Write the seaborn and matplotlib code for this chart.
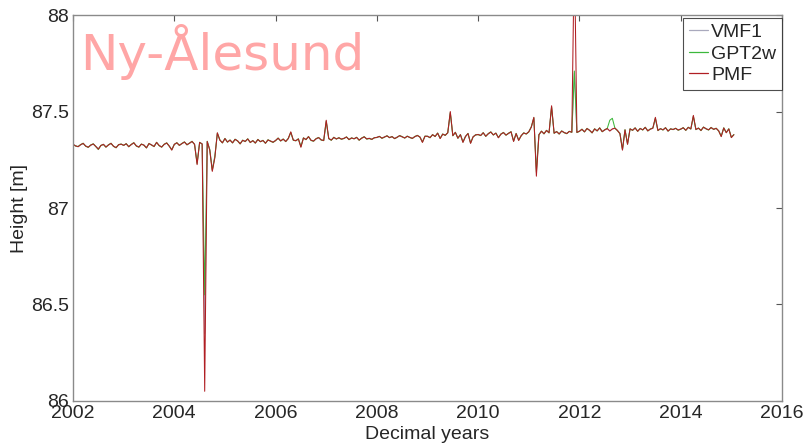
import numpy as np
import pandas as pd
import matplotlib
matplotlib.use("Agg")
import matplotlib.pyplot as plt
import seaborn as sns

# sampling epochs (decimal years), every 0.05 yr
years = np.round(np.arange(2002.0, 2015.051, 0.05), 2)

# station height [m] per troposphere mapping model
pmf = [
    87.330, 87.322, 87.318, 87.328, 87.335, 87.321, 87.315, 87.326, 87.332, 87.319, 87.305, 87.324, 87.330, 87.316, 87.327, 87.335, 87.320, 87.313, 87.328, 87.331,
    87.325, 87.333, 87.318, 87.329, 87.338, 87.322, 87.316, 87.331, 87.326, 87.312, 87.334, 87.327, 87.319, 87.340, 87.324, 87.316, 87.330, 87.337, 87.321, 87.300,
    87.330, 87.338, 87.325, 87.334, 87.342, 87.328, 87.336, 87.345, 87.330, 87.225, 87.340, 87.332, 86.050, 87.345, 87.300, 87.190, 87.260, 87.390, 87.352, 87.338,
    87.360, 87.342, 87.352, 87.338, 87.356, 87.348, 87.333, 87.351, 87.345, 87.358, 87.340, 87.349, 87.337, 87.355, 87.344, 87.350, 87.336, 87.353, 87.347, 87.341,
    87.350, 87.362, 87.348, 87.357, 87.345, 87.360, 87.395, 87.352, 87.349, 87.358, 87.315, 87.363, 87.355, 87.370, 87.351, 87.347, 87.359, 87.365, 87.353, 87.350,
    87.455, 87.360, 87.352, 87.366, 87.358, 87.364, 87.357, 87.361, 87.368, 87.355, 87.363, 87.359, 87.366, 87.352, 87.362, 87.369, 87.358, 87.361, 87.356, 87.364,
    87.366, 87.371, 87.362, 87.368, 87.374, 87.365, 87.370, 87.360, 87.367, 87.375, 87.369, 87.363, 87.372, 87.366, 87.361, 87.370, 87.376, 87.368, 87.340, 87.372,
    87.372, 87.365, 87.380, 87.371, 87.388, 87.360, 87.383, 87.377, 87.390, 87.500, 87.375, 87.392, 87.362, 87.380, 87.340, 87.371, 87.386, 87.335, 87.369, 87.379,
    87.381, 87.376, 87.390, 87.372, 87.385, 87.394, 87.379, 87.388, 87.364, 87.383, 87.391, 87.378, 87.387, 87.395, 87.345, 87.386, 87.350, 87.375, 87.389, 87.384,
    87.395, 87.420, 87.470, 87.165, 87.380, 87.398, 87.385, 87.402, 87.390, 87.530, 87.388, 87.396, 87.384, 87.399, 87.391, 87.386, 87.397, 87.393, 88.350, 87.392,
    87.398, 87.408, 87.395, 87.412, 87.403, 87.390, 87.410, 87.400, 87.415, 87.396, 87.405, 87.412, 87.399, 87.410, 87.414, 87.402, 87.385, 87.300, 87.405, 87.330,
    87.410, 87.403, 87.415, 87.398, 87.412, 87.405, 87.418, 87.400, 87.409, 87.414, 87.470, 87.402, 87.411, 87.405, 87.416, 87.399, 87.410, 87.407, 87.413, 87.404,
    87.409, 87.416, 87.403, 87.418, 87.410, 87.480, 87.407, 87.414, 87.402, 87.419, 87.411, 87.405, 87.417, 87.408, 87.413, 87.400, 87.370, 87.415, 87.390, 87.410,
    87.365, 87.380,
]

vmf1 = [
    87.331, 87.323, 87.317, 87.327, 87.334, 87.322, 87.316, 87.325, 87.331, 87.320, 87.308, 87.323, 87.331, 87.317, 87.326, 87.334, 87.321, 87.314, 87.327, 87.330,
    87.326, 87.332, 87.319, 87.328, 87.337, 87.323, 87.317, 87.330, 87.327, 87.313, 87.333, 87.328, 87.320, 87.339, 87.325, 87.317, 87.329, 87.336, 87.322, 87.304,
    87.331, 87.337, 87.326, 87.333, 87.341, 87.329, 87.335, 87.344, 87.331, 87.235, 87.339, 87.333, 86.350, 87.344, 87.305, 87.200, 87.270, 87.385, 87.351, 87.339,
    87.359, 87.343, 87.351, 87.339, 87.355, 87.349, 87.334, 87.350, 87.346, 87.357, 87.341, 87.348, 87.338, 87.354, 87.345, 87.349, 87.337, 87.352, 87.348, 87.342,
    87.351, 87.361, 87.349, 87.356, 87.346, 87.359, 87.390, 87.353, 87.350, 87.357, 87.320, 87.362, 87.356, 87.368, 87.352, 87.348, 87.358, 87.364, 87.354, 87.351,
    87.445, 87.361, 87.353, 87.365, 87.359, 87.363, 87.358, 87.362, 87.367, 87.356, 87.362, 87.360, 87.365, 87.353, 87.361, 87.368, 87.359, 87.362, 87.357, 87.363,
    87.367, 87.370, 87.363, 87.369, 87.373, 87.366, 87.369, 87.361, 87.368, 87.374, 87.368, 87.364, 87.371, 87.367, 87.362, 87.369, 87.375, 87.369, 87.345, 87.371,
    87.373, 87.366, 87.379, 87.372, 87.387, 87.362, 87.382, 87.378, 87.389, 87.490, 87.376, 87.391, 87.363, 87.379, 87.343, 87.372, 87.385, 87.338, 87.370, 87.378,
    87.382, 87.377, 87.389, 87.373, 87.384, 87.393, 87.380, 87.387, 87.366, 87.382, 87.390, 87.379, 87.386, 87.394, 87.348, 87.385, 87.353, 87.376, 87.388, 87.385,
    87.396, 87.418, 87.465, 87.200, 87.381, 87.397, 87.386, 87.401, 87.391, 87.520, 87.389, 87.395, 87.385, 87.398, 87.392, 87.387, 87.396, 87.394, 87.700, 87.393,
    87.399, 87.407, 87.396, 87.411, 87.404, 87.391, 87.409, 87.401, 87.414, 87.397, 87.404, 87.411, 87.400, 87.409, 87.413, 87.403, 87.388, 87.305, 87.404, 87.334,
    87.409, 87.404, 87.414, 87.399, 87.411, 87.406, 87.417, 87.401, 87.408, 87.413, 87.462, 87.403, 87.410, 87.406, 87.415, 87.400, 87.409, 87.408, 87.412, 87.405,
    87.410, 87.415, 87.404, 87.417, 87.411, 87.472, 87.408, 87.413, 87.403, 87.418, 87.412, 87.406, 87.416, 87.409, 87.412, 87.401, 87.374, 87.414, 87.393, 87.409,
    87.368, 87.379,
]

gpt2w = [
    87.329, 87.321, 87.319, 87.329, 87.336, 87.320, 87.314, 87.327, 87.333, 87.318, 87.303, 87.325, 87.329, 87.315, 87.328, 87.336, 87.319, 87.312, 87.329, 87.332,
    87.324, 87.334, 87.317, 87.330, 87.339, 87.321, 87.315, 87.332, 87.325, 87.311, 87.335, 87.326, 87.318, 87.341, 87.323, 87.315, 87.331, 87.338, 87.320, 87.302,
    87.329, 87.339, 87.324, 87.335, 87.343, 87.327, 87.337, 87.346, 87.329, 87.230, 87.341, 87.331, 86.550, 87.346, 87.302, 87.195, 87.265, 87.388, 87.353, 87.337,
    87.361, 87.341, 87.353, 87.337, 87.357, 87.347, 87.332, 87.352, 87.344, 87.359, 87.339, 87.350, 87.336, 87.356, 87.343, 87.351, 87.335, 87.354, 87.346, 87.340,
    87.349, 87.363, 87.347, 87.358, 87.344, 87.361, 87.392, 87.351, 87.348, 87.359, 87.318, 87.364, 87.354, 87.371, 87.350, 87.346, 87.360, 87.366, 87.352, 87.349,
    87.450, 87.359, 87.351, 87.367, 87.357, 87.365, 87.356, 87.360, 87.369, 87.354, 87.364, 87.358, 87.367, 87.351, 87.363, 87.370, 87.357, 87.360, 87.355, 87.365,
    87.365, 87.372, 87.361, 87.367, 87.375, 87.364, 87.371, 87.359, 87.366, 87.376, 87.370, 87.362, 87.373, 87.365, 87.360, 87.371, 87.377, 87.367, 87.342, 87.373,
    87.371, 87.364, 87.381, 87.370, 87.389, 87.361, 87.384, 87.376, 87.391, 87.495, 87.374, 87.393, 87.361, 87.381, 87.342, 87.370, 87.387, 87.337, 87.368, 87.380,
    87.380, 87.375, 87.391, 87.371, 87.386, 87.395, 87.378, 87.389, 87.365, 87.384, 87.392, 87.377, 87.388, 87.396, 87.347, 87.387, 87.352, 87.374, 87.390, 87.383,
    87.394, 87.422, 87.468, 87.185, 87.379, 87.399, 87.384, 87.403, 87.389, 87.525, 87.387, 87.397, 87.383, 87.400, 87.390, 87.385, 87.398, 87.392, 87.710, 87.391,
    87.397, 87.409, 87.394, 87.413, 87.402, 87.389, 87.411, 87.399, 87.416, 87.395, 87.406, 87.413, 87.455, 87.465, 87.415, 87.401, 87.386, 87.303, 87.406, 87.332,
    87.411, 87.402, 87.416, 87.397, 87.413, 87.404, 87.419, 87.399, 87.410, 87.415, 87.466, 87.401, 87.412, 87.404, 87.417, 87.398, 87.411, 87.406, 87.414, 87.403,
    87.408, 87.417, 87.402, 87.419, 87.409, 87.476, 87.406, 87.415, 87.401, 87.420, 87.410, 87.404, 87.418, 87.407, 87.414, 87.399, 87.372, 87.416, 87.391, 87.411,
    87.366, 87.381,
]

models = ["VMF1", "GPT2w", "PMF"]
colors = {"VMF1": "#a9a9bd", "GPT2w": "#3cb83c", "PMF": "#b01e23"}

df = pd.concat([
    pd.DataFrame({"year": years, "height": vals, "model": name})
    for name, vals in zip(models, [vmf1, gpt2w, pmf])
], ignore_index=True)

sns.set_style("white")
plt.rcParams["font.family"] = ["Liberation Sans", "DejaVu Sans"]

fig = plt.figure(figsize=(8.07, 4.44), dpi=100)
ax = fig.add_axes([0.0905, 0.097, 0.8785, 0.869])

sns.lineplot(data=df, x="year", y="height", hue="model", hue_order=models,
             palette=colors, estimator=None, linewidth=0.75, ax=ax)

ax.set_xlim(2002, 2016)
ax.set_ylim(86, 88)
ax.set_xticks(np.arange(2002, 2017, 2))
ax.set_yticks([86, 86.5, 87, 87.5, 88])
ax.set_yticklabels(["86", "86.5", "87", "87.5", "88"])
ax.tick_params(direction="in", length=4, width=0.8, color="#555555",
               top=True, right=True, labelsize=14, pad=3)
for s in ax.spines.values():
    s.set_color("#8a8a8a")
    s.set_linewidth(1.0)

ax.set_xlabel("Decimal years", fontsize=14, labelpad=3)
ax.set_ylabel("Height [m]", fontsize=14, labelpad=2)

ax.text(0.01, 0.857, "Ny-Ålesund", transform=ax.transAxes, fontsize=36,
        color="#ffa6a6", family="DejaVu Sans", va="baseline", ha="left")

leg = ax.legend(loc="upper right", bbox_to_anchor=(1.0, 0.993), fontsize=14,
                frameon=True, fancybox=False, edgecolor="#222222",
                handlelength=1.0, handletextpad=0.15, labelspacing=0.2,
                borderpad=0.3, borderaxespad=0.0)
leg.get_frame().set_linewidth(0.8)
for line in leg.get_lines():
    line.set_linewidth(0.9)

fig.savefig("out.png", dpi=100)
